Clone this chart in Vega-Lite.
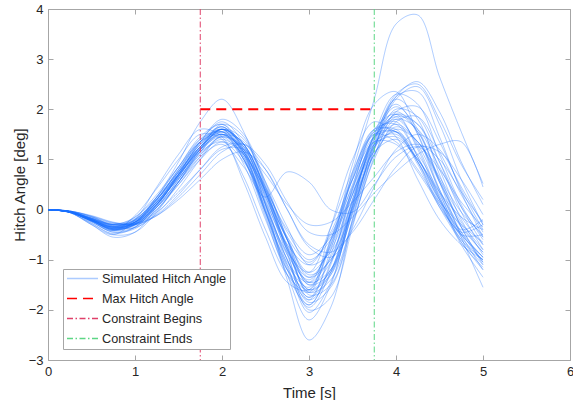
{
"$schema": "https://vega.github.io/schema/vega-lite/v6.json",
"width": 522, "height": 351,
"autosize": {"type": "none"},
"padding": {"left": 48, "top": 9, "right": 3, "bottom": 40},
"background": "white",
"config": {
  "view": {"stroke": null},
  "font": "Liberation Sans",
  "axis": {"grid": false, "labelFlush": false, "domainColor": "#a6a6a6", "tickColor": "#a6a6a6", "labelColor": "#262626", "titleColor": "#262626", "labelFontSize": 13, "titleFontSize": 15, "titleFontWeight": "normal", "tickSize": -5, "labelFont": "Liberation Sans", "titleFont": "Liberation Sans"},
  "legend": {"fillColor": "white", "strokeColor": "#a6a6a6", "padding": 3, "labelFontSize": 12.7, "labelColor": "#262626", "labelFont": "Liberation Sans", "symbolType": "stroke", "symbolSize": 961, "symbolStrokeWidth": 1.5, "clipHeight": 13, "rowPadding": 6, "labelOffset": 3}
},
"datasets": {"sim": [
{"s":1,"t":0,"y":0},{"s":1,"t":0.25,"y":-0.04},{"s":1,"t":0.5,"y":-0.18},{"s":1,"t":0.75,"y":-0.32},{"s":1,"t":1,"y":-0.22},{"s":1,"t":1.25,"y":0.15},{"s":1,"t":1.5,"y":0.68},{"s":1,"t":1.75,"y":1.2},{"s":1,"t":2,"y":1.45},{"s":1,"t":2.25,"y":1},{"s":1,"t":2.5,"y":0.05},{"s":1,"t":2.75,"y":-0.85},{"s":1,"t":3,"y":-1.25},{"s":1,"t":3.25,"y":-0.35},{"s":1,"t":3.5,"y":0.75},{"s":1,"t":3.75,"y":1.5},{"s":1,"t":4,"y":1.35},{"s":1,"t":4.25,"y":0.8},{"s":1,"t":4.5,"y":0.15},{"s":1,"t":4.75,"y":-0.3},{"s":1,"t":5,"y":-0.65},
{"s":2,"t":0,"y":0},{"s":2,"t":0.25,"y":-0.05},{"s":2,"t":0.5,"y":-0.25},{"s":2,"t":0.75,"y":-0.42},{"s":2,"t":1,"y":-0.12},{"s":2,"t":1.25,"y":0.42},{"s":2,"t":1.5,"y":1},{"s":2,"t":1.75,"y":1.5},{"s":2,"t":2,"y":1.4},{"s":2,"t":2.25,"y":0.65},{"s":2,"t":2.5,"y":-0.4},{"s":2,"t":2.75,"y":-1.3},{"s":2,"t":3,"y":-1.65},{"s":2,"t":3.25,"y":-0.6},{"s":2,"t":3.5,"y":0.7},{"s":2,"t":3.75,"y":1.6},{"s":2,"t":4,"y":1.55},{"s":2,"t":4.25,"y":0.9},{"s":2,"t":4.5,"y":0.05},{"s":2,"t":4.75,"y":-0.5},{"s":2,"t":5,"y":-0.95},
{"s":3,"t":0,"y":0},{"s":3,"t":0.25,"y":-0.03},{"s":3,"t":0.5,"y":-0.14},{"s":3,"t":0.75,"y":-0.33},{"s":3,"t":1,"y":-0.36},{"s":3,"t":1.25,"y":-0.08},{"s":3,"t":1.5,"y":0.42},{"s":3,"t":1.75,"y":1},{"s":3,"t":2,"y":1.48},{"s":3,"t":2.25,"y":1.35},{"s":3,"t":2.5,"y":0.55},{"s":3,"t":2.75,"y":-0.35},{"s":3,"t":3,"y":-1.1},{"s":3,"t":3.25,"y":-0.85},{"s":3,"t":3.5,"y":0.15},{"s":3,"t":3.75,"y":1.1},{"s":3,"t":4,"y":1.65},{"s":3,"t":4.25,"y":1.35},{"s":3,"t":4.5,"y":0.65},{"s":3,"t":4.75,"y":-0.05},{"s":3,"t":5,"y":-0.5},
{"s":4,"t":0,"y":0},{"s":4,"t":0.25,"y":-0.05},{"s":4,"t":0.5,"y":-0.2},{"s":4,"t":0.75,"y":-0.35},{"s":4,"t":1,"y":-0.25},{"s":4,"t":1.25,"y":0.2},{"s":4,"t":1.5,"y":0.75},{"s":4,"t":1.75,"y":1.3},{"s":4,"t":2,"y":1.6},{"s":4,"t":2.25,"y":1.1},{"s":4,"t":2.5,"y":0},{"s":4,"t":2.75,"y":-1},{"s":4,"t":3,"y":-1.75},{"s":4,"t":3.25,"y":-0.9},{"s":4,"t":3.5,"y":0.75},{"s":4,"t":3.75,"y":2.2},{"s":4,"t":4,"y":3.7},{"s":4,"t":4.25,"y":3.88},{"s":4,"t":4.5,"y":2.65},{"s":4,"t":4.75,"y":1.55},{"s":4,"t":5,"y":0.52},
{"s":5,"t":0,"y":0},{"s":5,"t":0.25,"y":-0.05},{"s":5,"t":0.5,"y":-0.2},{"s":5,"t":0.75,"y":-0.3},{"s":5,"t":1,"y":-0.15},{"s":5,"t":1.25,"y":0.25},{"s":5,"t":1.5,"y":0.75},{"s":5,"t":1.75,"y":1.25},{"s":5,"t":2,"y":1.6},{"s":5,"t":2.25,"y":1.25},{"s":5,"t":2.5,"y":0.25},{"s":5,"t":2.75,"y":-0.7},{"s":5,"t":3,"y":-1.5},{"s":5,"t":3.25,"y":-1.05},{"s":5,"t":3.5,"y":0.2},{"s":5,"t":3.75,"y":1.4},{"s":5,"t":4,"y":2.3},{"s":5,"t":4.25,"y":2.5},{"s":5,"t":4.5,"y":1.8},{"s":5,"t":4.75,"y":0.9},{"s":5,"t":5,"y":0.2},
{"s":6,"t":0,"y":0},{"s":6,"t":0.25,"y":-0.03},{"s":6,"t":0.5,"y":-0.12},{"s":6,"t":0.75,"y":-0.25},{"s":6,"t":1,"y":-0.3},{"s":6,"t":1.25,"y":-0.12},{"s":6,"t":1.5,"y":0.25},{"s":6,"t":1.75,"y":0.7},{"s":6,"t":2,"y":1.15},{"s":6,"t":2.25,"y":1.3},{"s":6,"t":2.5,"y":0.9},{"s":6,"t":2.75,"y":0.15},{"s":6,"t":3,"y":-0.45},{"s":6,"t":3.25,"y":-0.5},{"s":6,"t":3.5,"y":-0.15},{"s":6,"t":3.75,"y":0.33},{"s":6,"t":4,"y":0.75},{"s":6,"t":4.25,"y":1.1},{"s":6,"t":4.5,"y":1.3},{"s":6,"t":4.75,"y":1.35},{"s":6,"t":5,"y":0.45},
{"s":7,"t":0,"y":0},{"s":7,"t":0.25,"y":-0.04},{"s":7,"t":0.5,"y":-0.18},{"s":7,"t":0.75,"y":-0.3},{"s":7,"t":1,"y":-0.25},{"s":7,"t":1.25,"y":0.1},{"s":7,"t":1.5,"y":0.55},{"s":7,"t":1.75,"y":1.05},{"s":7,"t":2,"y":1.3},{"s":7,"t":2.25,"y":0.85},{"s":7,"t":2.5,"y":0.25},{"s":7,"t":2.75,"y":0.75},{"s":7,"t":3,"y":0.55},{"s":7,"t":3.25,"y":0},{"s":7,"t":3.5,"y":-0.05},{"s":7,"t":3.75,"y":0.5},{"s":7,"t":4,"y":1.05},{"s":7,"t":4.25,"y":1.25},{"s":7,"t":4.5,"y":0.8},{"s":7,"t":4.75,"y":0.15},{"s":7,"t":5,"y":-0.35},
{"s":8,"t":0,"y":0},{"s":8,"t":0.25,"y":-0.06},{"s":8,"t":0.5,"y":-0.28},{"s":8,"t":0.75,"y":-0.5},{"s":8,"t":1,"y":-0.45},{"s":8,"t":1.25,"y":-0.05},{"s":8,"t":1.5,"y":0.55},{"s":8,"t":1.75,"y":1.15},{"s":8,"t":2,"y":1.55},{"s":8,"t":2.25,"y":1.3},{"s":8,"t":2.5,"y":0.4},{"s":8,"t":2.75,"y":-0.6},{"s":8,"t":3,"y":-1.45},{"s":8,"t":3.25,"y":-1.2},{"s":8,"t":3.5,"y":-0.1},{"s":8,"t":3.75,"y":1.1},{"s":8,"t":4,"y":1.8},{"s":8,"t":4.25,"y":1.6},{"s":8,"t":4.5,"y":0.85},{"s":8,"t":4.75,"y":0.05},{"s":8,"t":5,"y":-0.55},
{"s":9,"t":0,"y":0},{"s":9,"t":0.25,"y":-0.04},{"s":9,"t":0.5,"y":-0.2},{"s":9,"t":0.75,"y":-0.38},{"s":9,"t":1,"y":-0.3},{"s":9,"t":1.25,"y":0.1},{"s":9,"t":1.5,"y":0.65},{"s":9,"t":1.75,"y":1.25},{"s":9,"t":2,"y":1.65},{"s":9,"t":2.25,"y":1.15},{"s":9,"t":2.5,"y":0},{"s":9,"t":2.75,"y":-1.15},{"s":9,"t":3,"y":-1.9},{"s":9,"t":3.25,"y":-1.1},{"s":9,"t":3.5,"y":0.4},{"s":9,"t":3.75,"y":1.55},{"s":9,"t":4,"y":1.75},{"s":9,"t":4.25,"y":1.05},{"s":9,"t":4.5,"y":0.15},{"s":9,"t":4.75,"y":-0.6},{"s":9,"t":5,"y":-1.1},
{"s":10,"t":0,"y":0},{"s":10,"t":0.25,"y":-0.05},{"s":10,"t":0.5,"y":-0.22},{"s":10,"t":0.75,"y":-0.4},{"s":10,"t":1,"y":-0.28},{"s":10,"t":1.25,"y":0.15},{"s":10,"t":1.5,"y":0.72},{"s":10,"t":1.75,"y":1.3},{"s":10,"t":2,"y":1.6},{"s":10,"t":2.25,"y":1.05},{"s":10,"t":2.5,"y":-0.1},{"s":10,"t":2.75,"y":-1.3},{"s":10,"t":3,"y":-2.2},{"s":10,"t":3.25,"y":-1.5},{"s":10,"t":3.5,"y":0.1},{"s":10,"t":3.75,"y":1.5},{"s":10,"t":4,"y":2.1},{"s":10,"t":4.25,"y":1.5},{"s":10,"t":4.5,"y":0.4},{"s":10,"t":4.75,"y":-0.5},{"s":10,"t":5,"y":-1.2},
{"s":11,"t":0,"y":0},{"s":11,"t":0.25,"y":-0.05},{"s":11,"t":0.5,"y":-0.24},{"s":11,"t":0.75,"y":-0.45},{"s":11,"t":1,"y":-0.35},{"s":11,"t":1.25,"y":0.08},{"s":11,"t":1.5,"y":0.7},{"s":11,"t":1.75,"y":1.35},{"s":11,"t":2,"y":1.75},{"s":11,"t":2.25,"y":1.3},{"s":11,"t":2.5,"y":0.1},{"s":11,"t":2.75,"y":-1.4},{"s":11,"t":3,"y":-2.6},{"s":11,"t":3.25,"y":-1.95},{"s":11,"t":3.5,"y":-0.2},{"s":11,"t":3.75,"y":1.35},{"s":11,"t":4,"y":2.2},{"s":11,"t":4.25,"y":1.8},{"s":11,"t":4.5,"y":0.7},{"s":11,"t":4.75,"y":-0.35},{"s":11,"t":5,"y":-1.05},
{"s":12,"t":0,"y":0},{"s":12,"t":0.25,"y":-0.04},{"s":12,"t":0.5,"y":-0.2},{"s":12,"t":0.75,"y":-0.35},{"s":12,"t":1,"y":-0.2},{"s":12,"t":1.25,"y":0.25},{"s":12,"t":1.5,"y":0.85},{"s":12,"t":1.75,"y":1.4},{"s":12,"t":2,"y":1.55},{"s":12,"t":2.25,"y":0.9},{"s":12,"t":2.5,"y":-0.2},{"s":12,"t":2.75,"y":-1.2},{"s":12,"t":3,"y":-1.6},{"s":12,"t":3.25,"y":-0.7},{"s":12,"t":3.5,"y":0.6},{"s":12,"t":3.75,"y":1.5},{"s":12,"t":4,"y":1.55},{"s":12,"t":4.25,"y":0.95},{"s":12,"t":4.5,"y":0.1},{"s":12,"t":4.75,"y":-0.6},{"s":12,"t":5,"y":-1},
{"s":13,"t":0,"y":0},{"s":13,"t":0.25,"y":-0.03},{"s":13,"t":0.5,"y":-0.15},{"s":13,"t":0.75,"y":-0.28},{"s":13,"t":1,"y":-0.18},{"s":13,"t":1.25,"y":0.2},{"s":13,"t":1.5,"y":0.7},{"s":13,"t":1.75,"y":1.15},{"s":13,"t":2,"y":1.35},{"s":13,"t":2.25,"y":0.95},{"s":13,"t":2.5,"y":0.15},{"s":13,"t":2.75,"y":-0.7},{"s":13,"t":3,"y":-1.1},{"s":13,"t":3.25,"y":-0.45},{"s":13,"t":3.5,"y":0.6},{"s":13,"t":3.75,"y":1.35},{"s":13,"t":4,"y":1.3},{"s":13,"t":4.25,"y":0.75},{"s":13,"t":4.5,"y":0.1},{"s":13,"t":4.75,"y":-0.45},{"s":13,"t":5,"y":-0.3},
{"s":14,"t":0,"y":0},{"s":14,"t":0.25,"y":-0.05},{"s":14,"t":0.5,"y":-0.2},{"s":14,"t":0.75,"y":-0.35},{"s":14,"t":1,"y":-0.3},{"s":14,"t":1.25,"y":0},{"s":14,"t":1.5,"y":0.5},{"s":14,"t":1.75,"y":1.05},{"s":14,"t":2,"y":1.45},{"s":14,"t":2.25,"y":1.25},{"s":14,"t":2.5,"y":0.45},{"s":14,"t":2.75,"y":-0.55},{"s":14,"t":3,"y":-1.35},{"s":14,"t":3.25,"y":-1},{"s":14,"t":3.5,"y":0.05},{"s":14,"t":3.75,"y":1.2},{"s":14,"t":4,"y":1.85},{"s":14,"t":4.25,"y":1.7},{"s":14,"t":4.5,"y":0.95},{"s":14,"t":4.75,"y":0.05},{"s":14,"t":5,"y":-0.7},
{"s":15,"t":0,"y":0},{"s":15,"t":0.25,"y":-0.06},{"s":15,"t":0.5,"y":-0.3},{"s":15,"t":0.75,"y":-0.55},{"s":15,"t":1,"y":-0.45},{"s":15,"t":1.25,"y":0.05},{"s":15,"t":1.5,"y":0.7},{"s":15,"t":1.75,"y":1.35},{"s":15,"t":2,"y":1.8},{"s":15,"t":2.25,"y":1.5},{"s":15,"t":2.5,"y":0.55},{"s":15,"t":2.75,"y":-0.6},{"s":15,"t":3,"y":-1.7},{"s":15,"t":3.25,"y":-1.5},{"s":15,"t":3.5,"y":-0.2},{"s":15,"t":3.75,"y":1.2},{"s":15,"t":4,"y":2.2},{"s":15,"t":4.25,"y":2.45},{"s":15,"t":4.5,"y":1.7},{"s":15,"t":4.75,"y":0.6},{"s":15,"t":5,"y":-0.3},
{"s":16,"t":0,"y":0},{"s":16,"t":0.25,"y":-0.05},{"s":16,"t":0.5,"y":-0.22},{"s":16,"t":0.75,"y":-0.38},{"s":16,"t":1,"y":-0.25},{"s":16,"t":1.25,"y":0.25},{"s":16,"t":1.5,"y":0.95},{"s":16,"t":1.75,"y":1.75},{"s":16,"t":2,"y":2.2},{"s":16,"t":2.25,"y":1.55},{"s":16,"t":2.5,"y":0.35},{"s":16,"t":2.75,"y":-0.9},{"s":16,"t":3,"y":-1.8},{"s":16,"t":3.25,"y":-1.3},{"s":16,"t":3.5,"y":0.1},{"s":16,"t":3.75,"y":1.5},{"s":16,"t":4,"y":2.3},{"s":16,"t":4.25,"y":2.1},{"s":16,"t":4.5,"y":1.1},{"s":16,"t":4.75,"y":0.1},{"s":16,"t":5,"y":-0.6},
{"s":17,"t":0,"y":0},{"s":17,"t":0.25,"y":-0.04},{"s":17,"t":0.5,"y":-0.18},{"s":17,"t":0.75,"y":-0.3},{"s":17,"t":1,"y":-0.2},{"s":17,"t":1.25,"y":0.2},{"s":17,"t":1.5,"y":0.7},{"s":17,"t":1.75,"y":1.2},{"s":17,"t":2,"y":1.5},{"s":17,"t":2.25,"y":1.15},{"s":17,"t":2.5,"y":0.35},{"s":17,"t":2.75,"y":-0.6},{"s":17,"t":3,"y":-1.3},{"s":17,"t":3.25,"y":-1},{"s":17,"t":3.5,"y":0},{"s":17,"t":3.75,"y":1.1},{"s":17,"t":4,"y":1.6},{"s":17,"t":4.25,"y":1.35},{"s":17,"t":4.5,"y":0.6},{"s":17,"t":4.75,"y":-0.15},{"s":17,"t":5,"y":-0.7},
{"s":18,"t":0,"y":0},{"s":18,"t":0.25,"y":-0.05},{"s":18,"t":0.5,"y":-0.22},{"s":18,"t":0.75,"y":-0.38},{"s":18,"t":1,"y":-0.25},{"s":18,"t":1.25,"y":0.15},{"s":18,"t":1.5,"y":0.7},{"s":18,"t":1.75,"y":1.25},{"s":18,"t":2,"y":1.55},{"s":18,"t":2.25,"y":1.1},{"s":18,"t":2.5,"y":0.1},{"s":18,"t":2.75,"y":-1},{"s":18,"t":3,"y":-1.75},{"s":18,"t":3.25,"y":-1.25},{"s":18,"t":3.5,"y":0.05},{"s":18,"t":3.75,"y":1.3},{"s":18,"t":4,"y":1.9},{"s":18,"t":4.25,"y":1.55},{"s":18,"t":4.5,"y":0.6},{"s":18,"t":4.75,"y":-0.35},{"s":18,"t":5,"y":-1.1},
{"s":19,"t":0,"y":0},{"s":19,"t":0.25,"y":-0.04},{"s":19,"t":0.5,"y":-0.18},{"s":19,"t":0.75,"y":-0.34},{"s":19,"t":1,"y":-0.28},{"s":19,"t":1.25,"y":0.05},{"s":19,"t":1.5,"y":0.55},{"s":19,"t":1.75,"y":1.1},{"s":19,"t":2,"y":1.45},{"s":19,"t":2.25,"y":1.2},{"s":19,"t":2.5,"y":0.45},{"s":19,"t":2.75,"y":-0.45},{"s":19,"t":3,"y":-1},{"s":19,"t":3.25,"y":-0.6},{"s":19,"t":3.5,"y":0.3},{"s":19,"t":3.75,"y":1.25},{"s":19,"t":4,"y":1.55},{"s":19,"t":4.25,"y":1.1},{"s":19,"t":4.5,"y":0.35},{"s":19,"t":4.75,"y":-0.35},{"s":19,"t":5,"y":-0.85},
{"s":20,"t":0,"y":0},{"s":20,"t":0.25,"y":-0.05},{"s":20,"t":0.5,"y":-0.22},{"s":20,"t":0.75,"y":-0.4},{"s":20,"t":1,"y":-0.32},{"s":20,"t":1.25,"y":0.05},{"s":20,"t":1.5,"y":0.6},{"s":20,"t":1.75,"y":1.2},{"s":20,"t":2,"y":1.6},{"s":20,"t":2.25,"y":1.3},{"s":20,"t":2.5,"y":0.4},{"s":20,"t":2.75,"y":-0.75},{"s":20,"t":3,"y":-1.65},{"s":20,"t":3.25,"y":-1.4},{"s":20,"t":3.5,"y":-0.25},{"s":20,"t":3.75,"y":1},{"s":20,"t":4,"y":1.75},{"s":20,"t":4.25,"y":1.85},{"s":20,"t":4.5,"y":1.15},{"s":20,"t":4.75,"y":0.3},{"s":20,"t":5,"y":-0.45},
{"s":21,"t":0,"y":0},{"s":21,"t":0.25,"y":-0.06},{"s":21,"t":0.5,"y":-0.3},{"s":21,"t":0.75,"y":-0.5},{"s":21,"t":1,"y":-0.2},{"s":21,"t":1.25,"y":0.45},{"s":21,"t":1.5,"y":1.1},{"s":21,"t":1.75,"y":1.6},{"s":21,"t":2,"y":1.45},{"s":21,"t":2.25,"y":0.55},{"s":21,"t":2.5,"y":-0.55},{"s":21,"t":2.75,"y":-1.45},{"s":21,"t":3,"y":-1.6},{"s":21,"t":3.25,"y":-0.35},{"s":21,"t":3.5,"y":1},{"s":21,"t":3.75,"y":1.75},{"s":21,"t":4,"y":1.45},{"s":21,"t":4.25,"y":0.6},{"s":21,"t":4.5,"y":-0.2},{"s":21,"t":4.75,"y":-0.7},{"s":21,"t":5,"y":-1},
{"s":22,"t":0,"y":0},{"s":22,"t":0.25,"y":-0.04},{"s":22,"t":0.5,"y":-0.2},{"s":22,"t":0.75,"y":-0.35},{"s":22,"t":1,"y":-0.15},{"s":22,"t":1.25,"y":0.3},{"s":22,"t":1.5,"y":0.85},{"s":22,"t":1.75,"y":1.35},{"s":22,"t":2,"y":1.5},{"s":22,"t":2.25,"y":1},{"s":22,"t":2.5,"y":-0.05},{"s":22,"t":2.75,"y":-1.1},{"s":22,"t":3,"y":-1.55},{"s":22,"t":3.25,"y":-0.65},{"s":22,"t":3.5,"y":0.65},{"s":22,"t":3.75,"y":1.6},{"s":22,"t":4,"y":1.7},{"s":22,"t":4.25,"y":1.05},{"s":22,"t":4.5,"y":0.2},{"s":22,"t":4.75,"y":-0.5},{"s":22,"t":5,"y":-0.95},
{"s":23,"t":0,"y":0},{"s":23,"t":0.25,"y":-0.03},{"s":23,"t":0.5,"y":-0.14},{"s":23,"t":0.75,"y":-0.27},{"s":23,"t":1,"y":-0.28},{"s":23,"t":1.25,"y":-0.05},{"s":23,"t":1.5,"y":0.35},{"s":23,"t":1.75,"y":0.8},{"s":23,"t":2,"y":1.2},{"s":23,"t":2.25,"y":1.2},{"s":23,"t":2.5,"y":0.7},{"s":23,"t":2.75,"y":0.1},{"s":23,"t":3,"y":-0.3},{"s":23,"t":3.25,"y":-0.25},{"s":23,"t":3.5,"y":0.15},{"s":23,"t":3.75,"y":0.65},{"s":23,"t":4,"y":1.15},{"s":23,"t":4.25,"y":1.3},{"s":23,"t":4.5,"y":1},{"s":23,"t":4.75,"y":0.35},{"s":23,"t":5,"y":-0.25},
{"s":24,"t":0,"y":0},{"s":24,"t":0.25,"y":-0.05},{"s":24,"t":0.5,"y":-0.22},{"s":24,"t":0.75,"y":-0.4},{"s":24,"t":1,"y":-0.3},{"s":24,"t":1.25,"y":0.1},{"s":24,"t":1.5,"y":0.7},{"s":24,"t":1.75,"y":1.3},{"s":24,"t":2,"y":1.65},{"s":24,"t":2.25,"y":1.2},{"s":24,"t":2.5,"y":0.15},{"s":24,"t":2.75,"y":-1},{"s":24,"t":3,"y":-1.85},{"s":24,"t":3.25,"y":-1.55},{"s":24,"t":3.5,"y":-0.3},{"s":24,"t":3.75,"y":1.05},{"s":24,"t":4,"y":1.95},{"s":24,"t":4.25,"y":2.05},{"s":24,"t":4.5,"y":1.35},{"s":24,"t":4.75,"y":0.4},{"s":24,"t":5,"y":-0.4},
{"s":25,"t":0,"y":0},{"s":25,"t":0.25,"y":-0.04},{"s":25,"t":0.5,"y":-0.2},{"s":25,"t":0.75,"y":-0.36},{"s":25,"t":1,"y":-0.22},{"s":25,"t":1.25,"y":0.2},{"s":25,"t":1.5,"y":0.8},{"s":25,"t":1.75,"y":1.35},{"s":25,"t":2,"y":1.55},{"s":25,"t":2.25,"y":1},{"s":25,"t":2.5,"y":-0.05},{"s":25,"t":2.75,"y":-1.05},{"s":25,"t":3,"y":-1.45},{"s":25,"t":3.25,"y":-0.6},{"s":25,"t":3.5,"y":0.6},{"s":25,"t":3.75,"y":1.55},{"s":25,"t":4,"y":1.6},{"s":25,"t":4.25,"y":0.95},{"s":25,"t":4.5,"y":0.05},{"s":25,"t":4.75,"y":-0.65},{"s":25,"t":5,"y":-1.2},
{"s":26,"t":0,"y":0},{"s":26,"t":0.25,"y":-0.05},{"s":26,"t":0.5,"y":-0.23},{"s":26,"t":0.75,"y":-0.42},{"s":26,"t":1,"y":-0.35},{"s":26,"t":1.25,"y":0},{"s":26,"t":1.5,"y":0.55},{"s":26,"t":1.75,"y":1.15},{"s":26,"t":2,"y":1.6},{"s":26,"t":2.25,"y":1.4},{"s":26,"t":2.5,"y":0.5},{"s":26,"t":2.75,"y":-0.6},{"s":26,"t":3,"y":-1.5},{"s":26,"t":3.25,"y":-1.25},{"s":26,"t":3.5,"y":-0.05},{"s":26,"t":3.75,"y":1.25},{"s":26,"t":4,"y":2},{"s":26,"t":4.25,"y":1.85},{"s":26,"t":4.5,"y":0.95},{"s":26,"t":4.75,"y":-0.05},{"s":26,"t":5,"y":-0.8},
{"s":27,"t":0,"y":0},{"s":27,"t":0.25,"y":-0.04},{"s":27,"t":0.5,"y":-0.17},{"s":27,"t":0.75,"y":-0.3},{"s":27,"t":1,"y":-0.22},{"s":27,"t":1.25,"y":0.15},{"s":27,"t":1.5,"y":0.62},{"s":27,"t":1.75,"y":1.1},{"s":27,"t":2,"y":1.4},{"s":27,"t":2.25,"y":1.1},{"s":27,"t":2.5,"y":0.3},{"s":27,"t":2.75,"y":-0.55},{"s":27,"t":3,"y":-1.05},{"s":27,"t":3.25,"y":-0.5},{"s":27,"t":3.5,"y":0.45},{"s":27,"t":3.75,"y":1.3},{"s":27,"t":4,"y":1.45},{"s":27,"t":4.25,"y":1},{"s":27,"t":4.5,"y":0.3},{"s":27,"t":4.75,"y":-0.4},{"s":27,"t":5,"y":-0.2},
{"s":28,"t":0,"y":0},{"s":28,"t":0.25,"y":-0.05},{"s":28,"t":0.5,"y":-0.24},{"s":28,"t":0.75,"y":-0.45},{"s":28,"t":1,"y":-0.38},{"s":28,"t":1.25,"y":-0.02},{"s":28,"t":1.5,"y":0.55},{"s":28,"t":1.75,"y":1.2},{"s":28,"t":2,"y":1.7},{"s":28,"t":2.25,"y":1.45},{"s":28,"t":2.5,"y":0.45},{"s":28,"t":2.75,"y":-0.85},{"s":28,"t":3,"y":-2},{"s":28,"t":3.25,"y":-1.75},{"s":28,"t":3.5,"y":-0.35},{"s":28,"t":3.75,"y":1.2},{"s":28,"t":4,"y":2.25},{"s":28,"t":4.25,"y":2.35},{"s":28,"t":4.5,"y":1.45},{"s":28,"t":4.75,"y":0.35},{"s":28,"t":5,"y":-0.55},
{"s":29,"t":0,"y":0},{"s":29,"t":0.25,"y":-0.04},{"s":29,"t":0.5,"y":-0.2},{"s":29,"t":0.75,"y":-0.35},{"s":29,"t":1,"y":-0.25},{"s":29,"t":1.25,"y":0.15},{"s":29,"t":1.5,"y":0.68},{"s":29,"t":1.75,"y":1.25},{"s":29,"t":2,"y":1.55},{"s":29,"t":2.25,"y":1.15},{"s":29,"t":2.5,"y":0.2},{"s":29,"t":2.75,"y":-0.8},{"s":29,"t":3,"y":-1.35},{"s":29,"t":3.25,"y":-0.75},{"s":29,"t":3.5,"y":0.4},{"s":29,"t":3.75,"y":1.35},{"s":29,"t":4,"y":1.5},{"s":29,"t":4.25,"y":0.95},{"s":29,"t":4.5,"y":0.2},{"s":29,"t":4.75,"y":-0.45},{"s":29,"t":5,"y":-0.95},
{"s":30,"t":0,"y":0},{"s":30,"t":0.25,"y":-0.05},{"s":30,"t":0.5,"y":-0.22},{"s":30,"t":0.75,"y":-0.38},{"s":30,"t":1,"y":-0.25},{"s":30,"t":1.25,"y":0.2},{"s":30,"t":1.5,"y":0.8},{"s":30,"t":1.75,"y":1.4},{"s":30,"t":2,"y":1.7},{"s":30,"t":2.25,"y":1.2},{"s":30,"t":2.5,"y":0.1},{"s":30,"t":2.75,"y":-1.1},{"s":30,"t":3,"y":-2.05},{"s":30,"t":3.25,"y":-1.45},{"s":30,"t":3.5,"y":0.05},{"s":30,"t":3.75,"y":1.45},{"s":30,"t":4,"y":2.05},{"s":30,"t":4.25,"y":1.6},{"s":30,"t":4.5,"y":0.55},{"s":30,"t":4.75,"y":-0.55},{"s":30,"t":5,"y":-1.55},
{"s":31,"t":0,"y":0},{"s":31,"t":0.25,"y":-0.03},{"s":31,"t":0.5,"y":-0.13},{"s":31,"t":0.75,"y":-0.26},{"s":31,"t":1,"y":-0.28},{"s":31,"t":1.25,"y":-0.1},{"s":31,"t":1.5,"y":0.3},{"s":31,"t":1.75,"y":0.8},{"s":31,"t":2,"y":1.25},{"s":31,"t":2.25,"y":1.3},{"s":31,"t":2.5,"y":0.8},{"s":31,"t":2.75,"y":0},{"s":31,"t":3,"y":-0.7},{"s":31,"t":3.25,"y":-0.85},{"s":31,"t":3.5,"y":-0.45},{"s":31,"t":3.75,"y":0.2},{"s":31,"t":4,"y":0.85},{"s":31,"t":4.25,"y":1.25},{"s":31,"t":4.5,"y":1.15},{"s":31,"t":4.75,"y":0.6},{"s":31,"t":5,"y":-0.1},
{"s":32,"t":0,"y":0},{"s":32,"t":0.25,"y":-0.05},{"s":32,"t":0.5,"y":-0.2},{"s":32,"t":0.75,"y":-0.35},{"s":32,"t":1,"y":-0.28},{"s":32,"t":1.25,"y":0.1},{"s":32,"t":1.5,"y":0.65},{"s":32,"t":1.75,"y":1.2},{"s":32,"t":2,"y":1.5},{"s":32,"t":2.25,"y":1.15},{"s":32,"t":2.5,"y":0.25},{"s":32,"t":2.75,"y":-0.75},{"s":32,"t":3,"y":-1.45},{"s":32,"t":3.25,"y":-0.95},{"s":32,"t":3.5,"y":0.3},{"s":32,"t":3.75,"y":1.45},{"s":32,"t":4,"y":1.8},{"s":32,"t":4.25,"y":1.3},{"s":32,"t":4.5,"y":0.4},{"s":32,"t":4.75,"y":-0.45},{"s":32,"t":5,"y":-1.05},
{"s":33,"t":0,"y":0},{"s":33,"t":0.25,"y":-0.04},{"s":33,"t":0.5,"y":-0.16},{"s":33,"t":0.75,"y":-0.3},{"s":33,"t":1,"y":-0.3},{"s":33,"t":1.25,"y":-0.12},{"s":33,"t":1.5,"y":0.2},{"s":33,"t":1.75,"y":0.6},{"s":33,"t":2,"y":1},{"s":33,"t":2.25,"y":1.15},{"s":33,"t":2.5,"y":0.8},{"s":33,"t":2.75,"y":0},{"s":33,"t":3,"y":-0.75},{"s":33,"t":3.25,"y":-0.95},{"s":33,"t":3.5,"y":-0.4},{"s":33,"t":3.75,"y":0.45},{"s":33,"t":4,"y":1.2},{"s":33,"t":4.25,"y":1.5},{"s":33,"t":4.5,"y":1.2},{"s":33,"t":4.75,"y":0.45},{"s":33,"t":5,"y":-0.3},
{"s":34,"t":0,"y":0},{"s":34,"t":0.25,"y":-0.05},{"s":34,"t":0.5,"y":-0.22},{"s":34,"t":0.75,"y":-0.4},{"s":34,"t":1,"y":-0.3},{"s":34,"t":1.25,"y":0.1},{"s":34,"t":1.5,"y":0.66},{"s":34,"t":1.75,"y":1.25},{"s":34,"t":2,"y":1.6},{"s":34,"t":2.25,"y":1.25},{"s":34,"t":2.5,"y":0.3},{"s":34,"t":2.75,"y":-0.8},{"s":34,"t":3,"y":-1.6},{"s":34,"t":3.25,"y":-1.2},{"s":34,"t":3.5,"y":0},{"s":34,"t":3.75,"y":1.25},{"s":34,"t":4,"y":1.9},{"s":34,"t":4.25,"y":1.7},{"s":34,"t":4.5,"y":0.8},{"s":34,"t":4.75,"y":-0.2},{"s":34,"t":5,"y":-0.9},
{"s":35,"t":0,"y":0},{"s":35,"t":0.25,"y":-0.06},{"s":35,"t":0.5,"y":-0.27},{"s":35,"t":0.75,"y":-0.48},{"s":35,"t":1,"y":-0.35},{"s":35,"t":1.25,"y":0.1},{"s":35,"t":1.5,"y":0.75},{"s":35,"t":1.75,"y":1.35},{"s":35,"t":2,"y":1.6},{"s":35,"t":2.25,"y":1},{"s":35,"t":2.5,"y":-0.15},{"s":35,"t":2.75,"y":-1.3},{"s":35,"t":3,"y":-1.9},{"s":35,"t":3.25,"y":-1.05},{"s":35,"t":3.5,"y":0.45},{"s":35,"t":3.75,"y":1.6},{"s":35,"t":4,"y":1.9},{"s":35,"t":4.25,"y":1.2},{"s":35,"t":4.5,"y":0.2},{"s":35,"t":4.75,"y":-0.7},{"s":35,"t":5,"y":-1.35},
{"s":36,"t":0,"y":0},{"s":36,"t":0.25,"y":-0.04},{"s":36,"t":0.5,"y":-0.19},{"s":36,"t":0.75,"y":-0.33},{"s":36,"t":1,"y":-0.2},{"s":36,"t":1.25,"y":0.22},{"s":36,"t":1.5,"y":0.75},{"s":36,"t":1.75,"y":1.25},{"s":36,"t":2,"y":1.5},{"s":36,"t":2.25,"y":1.05},{"s":36,"t":2.5,"y":0.1},{"s":36,"t":2.75,"y":-0.9},{"s":36,"t":3,"y":-1.4},{"s":36,"t":3.25,"y":-0.7},{"s":36,"t":3.5,"y":0.5},{"s":36,"t":3.75,"y":1.45},{"s":36,"t":4,"y":1.55},{"s":36,"t":4.25,"y":1},{"s":36,"t":4.5,"y":0.25},{"s":36,"t":4.75,"y":-0.5},{"s":36,"t":5,"y":-0.5},
{"s":37,"t":0,"y":0},{"s":37,"t":0.25,"y":-0.05},{"s":37,"t":0.5,"y":-0.21},{"s":37,"t":0.75,"y":-0.37},{"s":37,"t":1,"y":-0.27},{"s":37,"t":1.25,"y":0.12},{"s":37,"t":1.5,"y":0.66},{"s":37,"t":1.75,"y":1.22},{"s":37,"t":2,"y":1.6},{"s":37,"t":2.25,"y":1.3},{"s":37,"t":2.5,"y":0.35},{"s":37,"t":2.75,"y":-0.75},{"s":37,"t":3,"y":-1.6},{"s":37,"t":3.25,"y":-1.3},{"s":37,"t":3.5,"y":-0.05},{"s":37,"t":3.75,"y":1.3},{"s":37,"t":4,"y":2.25},{"s":37,"t":4.25,"y":2.55},{"s":37,"t":4.5,"y":1.95},{"s":37,"t":4.75,"y":0.95},{"s":37,"t":5,"y":0.1},
{"s":38,"t":0,"y":0},{"s":38,"t":0.25,"y":-0.04},{"s":38,"t":0.5,"y":-0.18},{"s":38,"t":0.75,"y":-0.33},{"s":38,"t":1,"y":-0.25},{"s":38,"t":1.25,"y":0.12},{"s":38,"t":1.5,"y":0.62},{"s":38,"t":1.75,"y":1.15},{"s":38,"t":2,"y":1.5},{"s":38,"t":2.25,"y":1.2},{"s":38,"t":2.5,"y":0.35},{"s":38,"t":2.75,"y":-0.6},{"s":38,"t":3,"y":-1.25},{"s":38,"t":3.25,"y":-0.8},{"s":38,"t":3.5,"y":0.3},{"s":38,"t":3.75,"y":1.3},{"s":38,"t":4,"y":1.7},{"s":38,"t":4.25,"y":1.35},{"s":38,"t":4.5,"y":0.55},{"s":38,"t":4.75,"y":-0.25},{"s":38,"t":5,"y":-0.8},
{"s":39,"t":0,"y":0},{"s":39,"t":0.25,"y":-0.05},{"s":39,"t":0.5,"y":-0.22},{"s":39,"t":0.75,"y":-0.4},{"s":39,"t":1,"y":-0.25},{"s":39,"t":1.25,"y":0.25},{"s":39,"t":1.5,"y":0.85},{"s":39,"t":1.75,"y":1.45},{"s":39,"t":2,"y":1.7},{"s":39,"t":2.25,"y":1.15},{"s":39,"t":2.5,"y":-0.05},{"s":39,"t":2.75,"y":-1.2},{"s":39,"t":3,"y":-1.8},{"s":39,"t":3.25,"y":-0.8},{"s":39,"t":3.5,"y":0.9},{"s":39,"t":3.75,"y":2.1},{"s":39,"t":4,"y":2.35},{"s":39,"t":4.25,"y":1.5},{"s":39,"t":4.5,"y":0.35},{"s":39,"t":4.75,"y":-0.55},{"s":39,"t":5,"y":-1},
{"s":40,"t":0,"y":0},{"s":40,"t":0.25,"y":-0.05},{"s":40,"t":0.5,"y":-0.21},{"s":40,"t":0.75,"y":-0.38},{"s":40,"t":1,"y":-0.3},{"s":40,"t":1.25,"y":0.05},{"s":40,"t":1.5,"y":0.6},{"s":40,"t":1.75,"y":1.2},{"s":40,"t":2,"y":1.6},{"s":40,"t":2.25,"y":1.3},{"s":40,"t":2.5,"y":0.35},{"s":40,"t":2.75,"y":-0.8},{"s":40,"t":3,"y":-1.65},{"s":40,"t":3.25,"y":-1.2},{"s":40,"t":3.5,"y":0.15},{"s":40,"t":3.75,"y":1.4},{"s":40,"t":4,"y":1.95},{"s":40,"t":4.25,"y":1.55},{"s":40,"t":4.5,"y":0.55},{"s":40,"t":4.75,"y":-0.3},{"s":40,"t":5,"y":-0.85},
{"s":41,"t":0,"y":0},{"s":41,"t":0.25,"y":-0.04},{"s":41,"t":0.5,"y":-0.17},{"s":41,"t":0.75,"y":-0.3},{"s":41,"t":1,"y":-0.25},{"s":41,"t":1.25,"y":0.05},{"s":41,"t":1.5,"y":0.5},{"s":41,"t":1.75,"y":1},{"s":41,"t":2,"y":1.35},{"s":41,"t":2.25,"y":1.1},{"s":41,"t":2.5,"y":0.4},{"s":41,"t":2.75,"y":-0.4},{"s":41,"t":3,"y":-0.9},{"s":41,"t":3.25,"y":-0.55},{"s":41,"t":3.5,"y":0.35},{"s":41,"t":3.75,"y":1.15},{"s":41,"t":4,"y":1.4},{"s":41,"t":4.25,"y":1},{"s":41,"t":4.5,"y":0.35},{"s":41,"t":4.75,"y":-0.15},{"s":41,"t":5,"y":-0.4},
{"s":42,"t":0,"y":0},{"s":42,"t":0.25,"y":-0.05},{"s":42,"t":0.5,"y":-0.23},{"s":42,"t":0.75,"y":-0.42},{"s":42,"t":1,"y":-0.28},{"s":42,"t":1.25,"y":0.18},{"s":42,"t":1.5,"y":0.78},{"s":42,"t":1.75,"y":1.35},{"s":42,"t":2,"y":1.65},{"s":42,"t":2.25,"y":1.1},{"s":42,"t":2.5,"y":-0.05},{"s":42,"t":2.75,"y":-1.2},{"s":42,"t":3,"y":-1.95},{"s":42,"t":3.25,"y":-1.25},{"s":42,"t":3.5,"y":0.2},{"s":42,"t":3.75,"y":1.45},{"s":42,"t":4,"y":1.85},{"s":42,"t":4.25,"y":1.25},{"s":42,"t":4.5,"y":0.25},{"s":42,"t":4.75,"y":-0.65},{"s":42,"t":5,"y":-1.15}
]},
"layer": [
  {
    "data": {"name": "sim"},
    "mark": {"type": "line", "interpolate": "catmull-rom", "strokeWidth": 1},
    "encoding": {
      "x": {"field": "t", "type": "quantitative", "scale": {"domain": [0, 6], "nice": false}, "axis": {"orient": "bottom", "values": [0,1,2,3,4,5,6], "title": "Time [s]", "labelPadding": 10, "titlePadding": 7}},
      "y": {"field": "y", "type": "quantitative", "scale": {"domain": [-3, 4], "nice": false}, "axis": {"orient": "left", "values": [-3,-2,-1,0,1,2,3,4], "title": "Hitch Angle [deg]", "labelPadding": 10, "titlePadding": 1}},
      "detail": {"field": "s", "type": "nominal"},
      "color": {"datum": "Simulated Hitch Angle", "type": "nominal", "scale": {"domain": ["Simulated Hitch Angle", "Max Hitch Angle", "Constraint Begins", "Constraint Ends"], "range": ["rgba(26,111,255,0.36)", "#ff0000", "#e0406a", "#5cd685"]}, "legend": {"title": null, "orient": "none", "legendX": 15, "legendY": 260}},
      "strokeDash": {"datum": "Simulated Hitch Angle", "type": "nominal", "scale": {"domain": ["Simulated Hitch Angle", "Max Hitch Angle", "Constraint Begins", "Constraint Ends"], "range": [[1,0], [10,6], [6,2.5,1.5,2.5], [6,2.5,1.5,2.5]]}, "legend": {"title": null, "orient": "none", "legendX": 15, "legendY": 260}}
    }
  },
  {
    "data": {"values": [{"t": 1.75, "y": 2}, {"t": 3.75, "y": 2}]},
    "mark": {"type": "line", "strokeWidth": 2},
    "encoding": {
      "x": {"field": "t", "type": "quantitative", "scale": {"domain": [0, 6], "nice": false}, "axis": {"orient": "top", "values": [0,1,2,3,4,5,6], "labels": false, "title": null}},
      "y": {"field": "y", "type": "quantitative", "scale": {"domain": [-3, 4], "nice": false}, "axis": {"orient": "right", "values": [-3,-2,-1,0,1,2,3,4], "labels": false, "title": null}},
      "color": {"datum": "Max Hitch Angle", "type": "nominal"},
      "strokeDash": {"datum": "Max Hitch Angle", "type": "nominal"}
    }
  },
  {
    "data": {"values": [{"x": 1.75}]},
    "mark": {"type": "rule", "strokeWidth": 1},
    "encoding": {
      "x": {"field": "x", "type": "quantitative", "scale": {"domain": [0, 6], "nice": false}, "axis": null},
      "color": {"datum": "Constraint Begins", "type": "nominal"},
      "strokeDash": {"datum": "Constraint Begins", "type": "nominal"}
    }
  },
  {
    "data": {"values": [{"x": 3.75}]},
    "mark": {"type": "rule", "strokeWidth": 1},
    "encoding": {
      "x": {"field": "x", "type": "quantitative", "scale": {"domain": [0, 6], "nice": false}, "axis": null},
      "color": {"datum": "Constraint Ends", "type": "nominal"},
      "strokeDash": {"datum": "Constraint Ends", "type": "nominal"}
    }
  }
],
"resolve": {"axis": {"x": "independent", "y": "independent"}}
}
